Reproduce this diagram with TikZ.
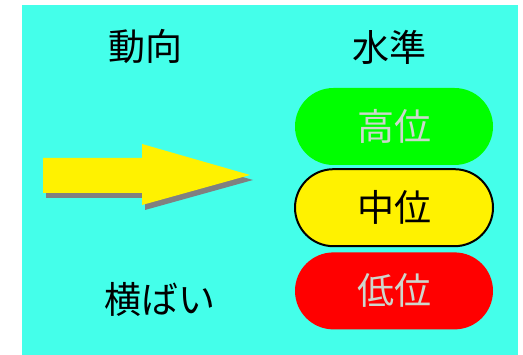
\documentclass[tikz,border=0pt]{standalone}
\usepackage{fontspec}
\usepackage{xcolor}
\newfontfamily\jpfont{Noto Sans CJK JP}
\usetikzlibrary{positioning,shapes.misc}
\definecolor{bgcyan}{RGB}{68,255,234}
\definecolor{pillgreen}{RGB}{0,255,0}
\definecolor{pillred}{RGB}{255,0,0}
\definecolor{pilltext}{RGB}{205,215,205}

\begin{document}
\begin{tikzpicture}[x=1pt,y=1pt,
    lbl/.style={font=\jpfont\fontsize{37}{37}\selectfont},
    pill/.style={rounded rectangle,minimum width=198pt,minimum height=77pt,inner sep=0pt,lbl}]
  \useasboundingbox (0,0) rectangle (523,355);
  \fill[bgcyan] (22,0) rectangle (518,350);
  \node[lbl] (trend) at (145,308) {動向};
  \node[lbl] (level) at (389,308) {水準};
  \node[lbl] (flat) at (160,56) {横ばい};
  \node[pill,fill=pillgreen,text=pilltext] (high) at (394,228.5) {高位};
  \node[pill,fill=yellow,draw=black,line width=2pt,below=3pt of high] (mid) {中位};
  \node[pill,fill=pillred,text=pilltext,below=5pt of mid] (low) {低位};
  \fill[gray,shift={(3,-5)}] (43,197) -- (142,197) -- (142,211) -- (250,180)
    -- (142,150) -- (142,162) -- (43,162) -- cycle;
  \fill[yellow] (43,197) -- (142,197) -- (142,211) -- (250,180)
    -- (142,150) -- (142,162) -- (43,162) -- cycle;
\end{tikzpicture}
\end{document}
